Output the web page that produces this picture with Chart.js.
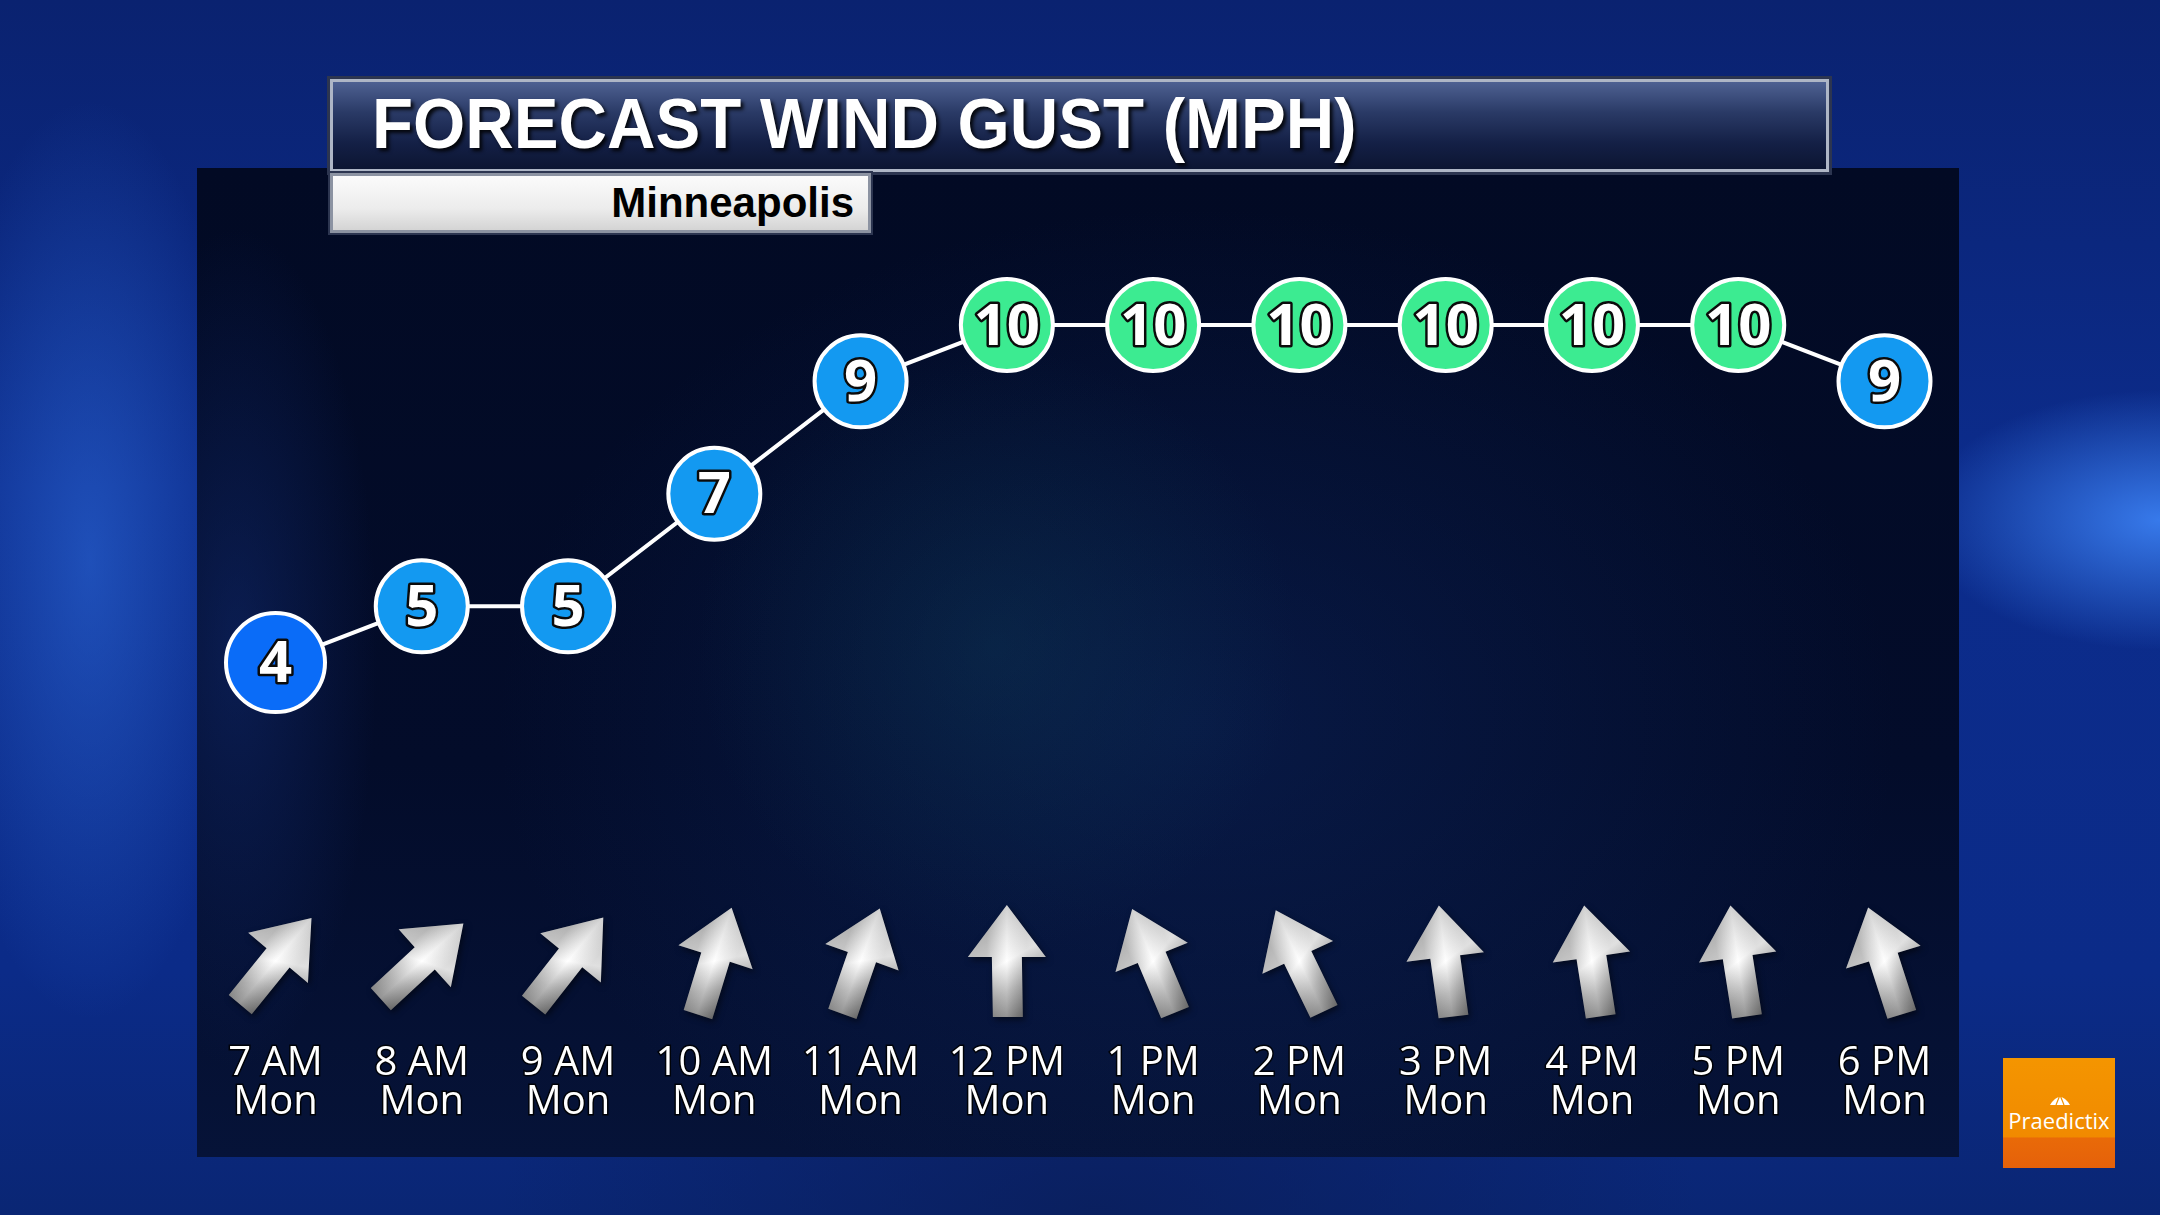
<!DOCTYPE html>
<html><head><meta charset="utf-8">
<script src="https://cdn.jsdelivr.net/npm/chart.js@4.4.1/dist/chart.umd.min.js"></script>
<style>
html,body{margin:0;padding:0;width:2160px;height:1215px;overflow:hidden;background:#0a2a86;}
#bg{position:absolute;left:0;top:0;width:2160px;height:1215px;background:
 radial-gradient(ellipse 160px 460px at 90px 560px, rgba(50,115,230,0.5), rgba(50,115,230,0) 100%),
 radial-gradient(ellipse 240px 130px at 2160px 520px, rgba(60,130,245,0.9), rgba(60,130,245,0) 100%),
 radial-gradient(ellipse 600px 300px at 1100px 1215px, rgba(10,30,90,0.8), rgba(10,30,90,0) 100%),
 linear-gradient(180deg,#0a2270 0%,#0c2c8c 40%,#0b2b88 80%,#0a2674 100%);}
#panel{position:absolute;left:197px;top:168px;width:1762px;height:989px;background:
 radial-gradient(ellipse 300px 300px at 800px 480px, rgba(20,90,110,0.22), rgba(20,90,110,0) 100%),
 radial-gradient(ellipse 700px 520px at 1000px 560px, rgba(15,45,110,0.4), rgba(0,0,0,0) 100%),
 radial-gradient(ellipse 140px 420px at 40px 480px, rgba(20,50,130,0.45), rgba(0,0,0,0) 100%),
 linear-gradient(180deg,#020a24 0%,#030c2a 60%,#061338 100%);}
#titlebar{position:absolute;left:330px;top:79px;width:1499px;height:93px;box-sizing:border-box;
 border:3px solid #aeb6c6;box-shadow:0 0 0 3px #2c3550;
 background:linear-gradient(180deg,#4e6192 0%,#2a3a66 35%,#142046 70%,#0c1532 100%);}
#title{position:absolute;left:372px;top:89px;height:70px;line-height:70px;white-space:nowrap;
 font-family:"Liberation Sans",Arial,sans-serif;font-weight:bold;font-size:70px;color:#fff;
 text-shadow:3px 3px 4px rgba(0,0,0,0.85);transform-origin:0 0;}
#subbox{position:absolute;left:330px;top:173px;width:541px;height:60px;box-sizing:border-box;
 border:3px solid #8c93a2;box-shadow:0 0 0 2px #2c3550;
 background:linear-gradient(180deg,#fbfbfb 0%,#ececec 60%,#d4d4d4 100%);}
#sub{position:absolute;right:1306px;top:182px;height:42px;line-height:42px;white-space:nowrap;
 font-family:"Liberation Sans",Arial,sans-serif;font-weight:bold;font-size:42px;color:#000;}
#logo{position:absolute;left:2003px;top:1058px;width:112px;height:110px;
 background:linear-gradient(180deg,#f49500 0%,#f18a00 72%,#e96a08 72.5%,#e5610a 100%);}
#logotext{position:absolute;left:0;width:112px;top:1105px;text-align:center;color:#fff;
 font-family:"Open Sans",sans-serif;font-size:22px;line-height:30px;}
#umb{position:absolute;left:2048px;top:1093px;}
#c{position:absolute;left:0;top:0;}
</style></head>
<body>
<div id="bg"></div>
<div id="panel"></div>
<div id="titlebar"></div>
<div id="title">FORECAST WIND GUST (MPH)</div>
<div id="subbox"></div>
<div id="sub">Minneapolis</div>
<div id="logo"></div>
<svg id="umb" width="24" height="14" viewBox="0 0 24 14"><path d="M2 12 Q12 -4 22 12 Z" fill="#fff"/><path d="M8 12 L12 2 M16 12 L12 2" stroke="#f39200" stroke-width="1.2"/></svg>
<div id="logotext" style="left:2003px;">Praedictix</div>
<canvas id="c" width="2160" height="1215"></canvas>
<script>
// ---- data ----
const hourLabels = ['7 AM','8 AM','9 AM','10 AM','11 AM','12 PM','1 PM','2 PM','3 PM','4 PM','5 PM','6 PM'];
const dayLabels = ['Mon','Mon','Mon','Mon','Mon','Mon','Mon','Mon','Mon','Mon','Mon','Mon'];
const gustMph = [4,5,5,7,9,10,10,10,10,10,10,9];
// arrow direction (degrees clockwise from straight up)
const windArrowDeg = [40,48,39,18,20,0,-22,-25,-7,-8,-8,-17];

// title width fit
(function(){
  const t = document.getElementById('title');
  const w = t.offsetWidth;
  t.style.transform = 'scaleX(' + (985 / w) + ')';
})();

function colorFor(v){
  if (v >= 10) return '#3ceb91';
  if (v <= 4) return '#0a6cf8';
  return '#1399f1';
}

const labels = hourLabels.map((h,i) => [h, dayLabels[i]]);

const numberPlugin = {
  id: 'numbers',
  afterDatasetsDraw(chart){
    const ctx = chart.ctx;
    const meta = chart.getDatasetMeta(0);
    ctx.save();
    ctx.font = 'bold 58px "Open Sans", sans-serif';
    ctx.textAlign = 'center';
    ctx.textBaseline = 'middle';
    ctx.lineJoin = 'round';
    meta.data.forEach((pt, i) => {
      const s = String(gustMph[i]);
      ctx.lineWidth = 5;
      ctx.strokeStyle = '#0b0b0b';
      ctx.strokeText(s, pt.x, pt.y + 3);
      ctx.fillStyle = '#ffffff';
      ctx.fillText(s, pt.x, pt.y + 3);
    });
    ctx.restore();
  }
};

const arrowPlugin = {
  id: 'arrows',
  afterDatasetsDraw(chart){
    const ctx = chart.ctx;
    const xs = chart.scales.x;
    const cy = 961;
    windArrowDeg.forEach((deg, i) => {
      const cx = xs.getPixelForValue(i);
      ctx.save();
      ctx.translate(cx, cy);
      ctx.rotate(deg * Math.PI / 180);
      ctx.beginPath();
      ctx.moveTo(0, -56);
      ctx.lineTo(39, -4);
      ctx.lineTo(15, -4);
      ctx.lineTo(16, 56);
      ctx.lineTo(-14, 56);
      ctx.lineTo(-15, -4);
      ctx.lineTo(-39, -4);
      ctx.closePath();
      const g = ctx.createLinearGradient(-30, -50, 30, 56);
      g.addColorStop(0, '#bdbdbd');
      g.addColorStop(0.3, '#e8e8e8');
      g.addColorStop(0.48, '#ffffff');
      g.addColorStop(0.7, '#b4b4b4');
      g.addColorStop(1, '#5e5e5e');
      ctx.fillStyle = g;
      ctx.shadowColor = 'rgba(0,0,0,0.5)';
      ctx.shadowBlur = 6;
      ctx.shadowOffsetX = 2;
      ctx.shadowOffsetY = 3;
      ctx.fill();
      ctx.shadowColor = 'transparent';
      const g2 = ctx.createLinearGradient(-20, 0, 20, 0);
      g2.addColorStop(0, 'rgba(0,0,0,0.18)');
      g2.addColorStop(0.5, 'rgba(255,255,255,0.15)');
      g2.addColorStop(1, 'rgba(0,0,0,0.12)');
      ctx.fillStyle = g2;
      ctx.fill();
      ctx.restore();
    });
  }
};

new Chart(document.getElementById('c'), {
  type: 'line',
  data: {
    labels: labels,
    datasets: [{
      data: gustMph,
      borderColor: '#ffffff',
      borderWidth: 4,
      pointRadius: ctx => (gustMph[ctx.dataIndex] <= 4 ? 49.5 : 46),
      pointBorderWidth: 4,
      pointBorderColor: '#ffffff',
      pointBackgroundColor: ctx => colorFor(gustMph[ctx.dataIndex]),
      tension: 0,
      clip: false
    }]
  },
  options: {
    responsive: false,
    devicePixelRatio: 1,
    animation: false,
    events: [],
    layout: { padding: { left: 275.5, right: 275.5, top: 212.6, bottom: 0 } },
    plugins: { legend: { display: false }, tooltip: { enabled: false }, title: { display: false } },
    scales: {
      x: {
        type: 'category',
        offset: false,
        grid: { display: false, drawTicks: false },
        border: { display: false },
        ticks: {
          color: '#ffffff',
          font: { family: '"Open Sans", sans-serif', size: 40, lineHeight: 0.975 },
          padding: 157,
          autoSkip: false,
          maxRotation: 0,
          minRotation: 0,
          textStrokeColor: 'rgba(0,0,0,0.85)',
          textStrokeWidth: 3
        },
        afterFit(scale){ scale.height = 327.4; }
      },
      y: { display: false, min: 0, max: 12 }
    }
  },
  plugins: [arrowPlugin, numberPlugin]
});
</script>
</body></html>
